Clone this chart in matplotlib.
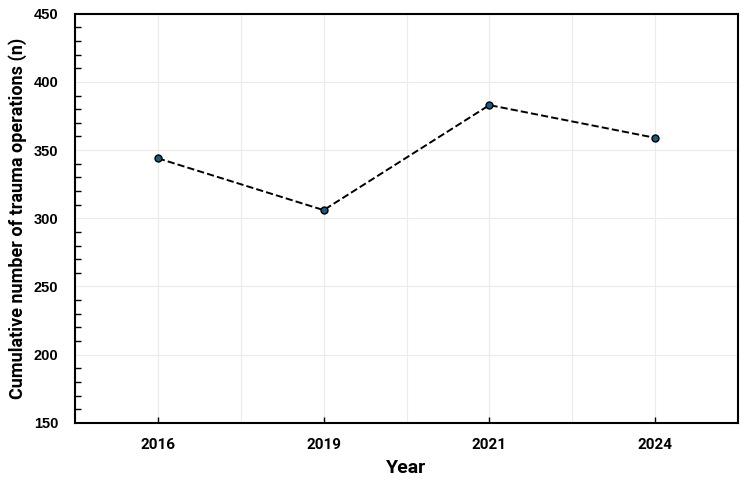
import matplotlib
matplotlib.use("Agg")
import matplotlib.pyplot as plt
from matplotlib.ticker import MultipleLocator

# Data
years = ["2016", "2019", "2021", "2024"]
operations = [344, 306, 383, 359]

fig, ax = plt.subplots(figsize=(7.5, 4.9), dpi=100)
fig.subplots_adjust(left=0.1, right=0.984, top=0.972, bottom=0.137)

x = list(range(len(years)))
ax.plot(x, operations, linestyle="--", color="black", linewidth=1.4,
        marker="o", markersize=5, markerfacecolor="#1f5a7a",
        markeredgecolor="black", markeredgewidth=1.0, zorder=3)

ax.set_xlim(-0.5, len(years) - 0.5)
ax.set_ylim(150, 450)
ax.set_xticks(x)
ax.set_xticklabels(years, family="Roboto", fontweight="bold", fontsize=11)
ax.xaxis.set_minor_locator(MultipleLocator(0.5))
ax.yaxis.set_major_locator(MultipleLocator(50))
ax.yaxis.set_minor_locator(MultipleLocator(10))
for lab in ax.get_yticklabels():
    lab.set_fontweight("bold")
    lab.set_family("Liberation Sans")
    lab.set_fontsize(10.5)

ax.tick_params(axis="both", which="both", direction="in", length=4, width=1)
ax.tick_params(axis="x", which="minor", length=0)
ax.tick_params(axis="y", which="major", length=0, pad=12)
ax.tick_params(axis="x", which="major", pad=11)

ax.grid(True, which="major", color="#ebebeb", linewidth=0.8)
ax.grid(True, which="minor", axis="x", color="#ebebeb", linewidth=0.8)
ax.set_axisbelow(True)

for s in ax.spines.values():
    s.set_linewidth(1.5)

ax.set_xlabel("Year", family="Roboto", fontweight="bold", fontsize=14, labelpad=5)
ax.set_ylabel("Cumulative number of trauma operations (n)", family="Roboto",
              fontweight="bold", fontsize=13, labelpad=5)

fig.savefig("out.png", dpi=100)
